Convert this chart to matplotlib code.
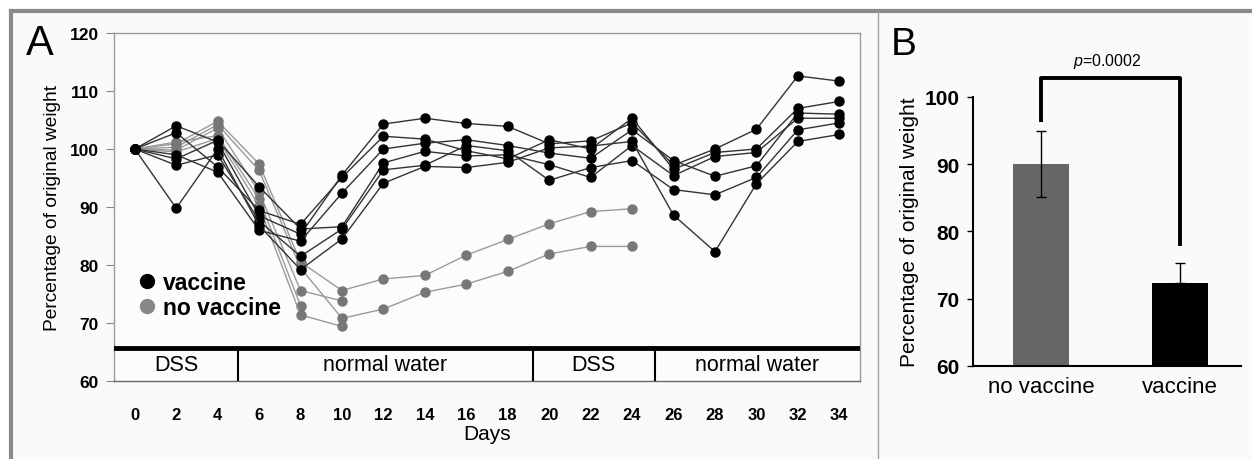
import numpy as np
import matplotlib.pyplot as plt
from matplotlib.lines import Line2D
from matplotlib.patches import Rectangle

plt.rcParams['font.family'] = ['Liberation Sans', 'DejaVu Sans']
plt.rcParams['mathtext.fontset'] = 'custom'
plt.rcParams['mathtext.it'] = 'Liberation Sans:italic'
plt.rcParams['mathtext.rm'] = 'Liberation Sans'

# --- panel A data: % of original weight per mouse, every 2 days ---
days = np.arange(0, 36, 2)
vaccine = [
    [100, 104.0, 101.2, 88.5, 85.3, 95.5, 104.3, 105.3, 104.4, 103.9, 100.9, 101.4, 104.5, 97.2, 100.0, 103.4, 112.6, 111.7],
    [100, 102.8, 96.9, 89.4, 87.0, 95.1, 102.2, 101.7, 99.7, 98.3, 101.6, 100.0, 105.3, 96.5, 99.4, 100.0, 107.0, 108.2],
    [100, 99.0, 96.0, 86.0, 84.1, 92.4, 100.0, 101.0, 101.6, 100.6, 99.3, 98.4, 103.3, 98.0, 95.3, 97.1, 106.2, 106.0],
    [100, 98.3, 101.5, 93.5, 86.2, 86.6, 97.6, 99.6, 98.8, 99.0, 97.3, 95.1, 100.6, 95.4, 98.7, 99.4, 105.3, 105.3],
    [100, 97.2, 99.0, 87.6, 81.5, 86.2, 96.4, 97.2, 100.6, 99.7, 94.6, 96.8, 98.0, 93.0, 92.1, 95.1, 103.3, 104.5],
    [100, 89.8, 100.0, 86.8, 79.2, 84.5, 94.1, 97.0, 96.8, 97.7, 100.2, 100.5, 101.3, 88.6, 82.3, 94.0, 101.3, 102.5],
]
no_vaccine = [
    [100, 100.9, 104.8, 97.4, 80.5, 75.6, 77.6, 78.2, 81.7, 84.4, 87.1, 89.2, 89.7],
    [100, 100.3, 104.2, 96.3, 79.5, 70.8, 72.4, 75.3, 76.7, 78.9, 81.9, 83.2, 83.2],
    [100, 99.8, 103.6, 92.6, 75.6, 73.8],
    [100, 101.2, 102.3, 91.4, 73.0],
    [100, 99.5, 101.8, 90.2, 71.4, 69.4],
]
phase_names = ['DSS', 'normal water', 'DSS', 'normal water']
phase_edges = [-1, 5, 19.2, 25.1, 35]

# --- panel B data ---
groups = ['no vaccine', 'vaccine']
means = [90.0, 72.4]
err_low = [4.9, 0.0]
err_high = [5.0, 2.9]
p_label = r'$p$=0.0002'

fig = plt.figure(figsize=(12.52, 4.6), dpi=100, facecolor='white')
fig.add_artist(Rectangle((0.0088, 0), 0.9912, 0.974, transform=fig.transFigure,
                         facecolor='#fafafa', edgecolor='none', zorder=-10))

# ---------------- A ----------------
ax = fig.add_axes([0.0911, 0.1696, 0.5958, 0.7565])
ax.set_facecolor('#fcfcfc')
for s in no_vaccine:
    ax.plot(days[:len(s)], s, color='#9a9a9a', lw=1, marker='o', ms=6.5,
            mfc='#777777', mec='#777777', zorder=2)
for s in vaccine:
    ax.plot(days[:len(s)], s, color='#333333', lw=1, marker='o', ms=6.5,
            mfc='black', mec='black', zorder=3)

ax.set_xlim(-1, 35)
ax.set_ylim(60, 120)

# treatment bar
ax.axhline(65.7, color='black', lw=3.5, zorder=4)
ax.vlines(phase_edges[1:-1], 60, 65.7, color='black', lw=1.5, zorder=4)
for i, name in enumerate(phase_names):
    ax.text((phase_edges[i] + phase_edges[i + 1]) / 2, 62.8, name, ha='center',
            va='center', fontsize=15.5)

for sp in ax.spines.values():
    sp.set_color('#9a9a9a')
    sp.set_linewidth(1)
ax.spines['bottom'].set_color('#666666')

ax.set_yticks(np.arange(60, 121, 10))
ax.tick_params(axis='y', length=6, color='#888888', labelsize=12.5, pad=5)
ax.set_xticks(days)
ax.tick_params(axis='x', length=0, labelsize=12, pad=19)
for t in ax.get_yticklabels() + ax.get_xticklabels():
    t.set_fontweight('bold')
ax.set_xlabel('Days', fontsize=15, labelpad=1)
ax.set_ylabel('Percentage of original weight', fontsize=13.8, labelpad=6)

handles = [Line2D([], [], ls='none', marker='o', ms=10, color='black'),
           Line2D([], [], ls='none', marker='o', ms=10, color='#888888')]
ax.legend(handles, ['vaccine', 'no vaccine'], loc='upper left',
          bbox_to_anchor=(0.012, 0.35), frameon=False, handletextpad=0.15,
          handlelength=1.1, labelspacing=0.12, borderpad=0,
          prop={'weight': 'bold', 'size': 16.5})

# ---------------- B ----------------
bx = fig.add_axes([0.7772, 0.2022, 0.2140, 0.5848])
bx.set_facecolor('#fafafa')
x = np.arange(len(groups))
bx.bar(x, means, width=0.4, color=['#666666', 'black'],
       yerr=[err_low, err_high], capsize=3.5,
       error_kw=dict(elinewidth=1, ecolor='black', capthick=1))
bx.plot([0, 0, 1, 1], [96.3, 102.8, 102.8, 77.8], color='black', lw=2.8,
        clip_on=False, solid_capstyle='butt')
bx.text(0.48, 105.4, p_label, ha='center', va='center', fontsize=11.5)

bx.set_xlim(-0.49, 1.44)
bx.set_ylim(60, 100)
bx.spines['top'].set_visible(False)
bx.spines['right'].set_visible(False)
bx.spines['left'].set_linewidth(1.5)
bx.spines['bottom'].set_linewidth(1.5)
bx.set_yticks(np.arange(60, 101, 10))
bx.tick_params(axis='y', length=4, width=1, labelsize=15, pad=6)
for t in bx.get_yticklabels():
    t.set_fontweight('bold')
bx.set_xticks(x)
bx.set_xticklabels(groups)
bx.tick_params(axis='x', length=0, labelsize=16, pad=7)
bx.set_ylabel('Percentage of original weight', fontsize=15, labelpad=4)

# panel letters and frame
fig.text(0.032, 0.905, 'A', fontsize=30, ha='center', va='center')
fig.text(0.7214, 0.903, 'B', fontsize=28, ha='center', va='center')
fig.add_artist(Line2D([0.0088, 1], [0.974, 0.974], transform=fig.transFigure,
                      color='#8a8a8a', lw=3))
fig.add_artist(Line2D([0.0088, 0.0088], [0, 0.974], transform=fig.transFigure,
                      color='#8a8a8a', lw=3))
fig.add_artist(Line2D([0.7013, 0.7013], [0, 0.974], transform=fig.transFigure,
                      color='#a0a0a0', lw=1))

fig.savefig('out.png', dpi=100, facecolor=fig.get_facecolor())
